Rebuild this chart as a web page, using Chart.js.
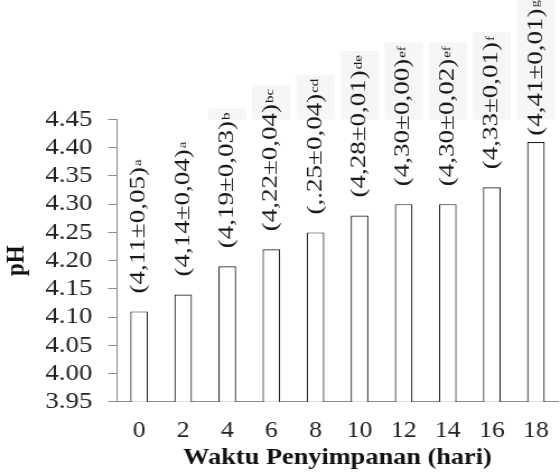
<!DOCTYPE html>
<html>
<head>
<meta charset="utf-8">
<script src="https://cdn.jsdelivr.net/npm/chart.js@4"></script>
<style>
  html, body { margin: 0; padding: 0; background: #fff; width: 560px; height: 475px; overflow: hidden; }
  #wrap { position: absolute; left: 0; top: 0; transform: scaleX(1.12); transform-origin: 0 0; }
</style>
</head>
<body>
<div id="wrap"><canvas id="c" width="505" height="475"></canvas></div>
<script>
// ---- data ----
const categories = ['0', '2', '4', '6', '8', '10', '12', '14', '16', '18'];
const phValues = [4.11, 4.14, 4.19, 4.22, 4.25, 4.28, 4.30, 4.30, 4.33, 4.41];
const labelMain = ['(4,11±0,05)', '(4,14±0,04)', '(4,19±0,03)', '(4,22±0,04)', '(,.25±0,04)',
                   '(4,28±0,01)', '(4,30±0,00)', '(4,30±0,02)', '(4,33±0,01)', '(4,41±0,01)'];
const labelLetters = ['a', 'a', 'b', 'bc', 'cd', 'de', 'ef', 'ef', 'f', 'g'];
const yTicks = [3.95, 4.00, 4.05, 4.10, 4.15, 4.20, 4.25, 4.30, 4.35, 4.40, 4.45];
const xTitle = 'Waktu Penyimpanan (hari)';
const yTitle = 'pH';

const SX = 1.12;
const SERIF = '"Liberation Serif", "Times New Roman", serif';
const AXIS_GRAY = '#8c8c8c';

const labelPlugin = {
  id: 'barLabels',
  afterDatasetsDraw(chart) {
    const ctx = chart.ctx;
    const meta = chart.getDatasetMeta(0);
    const areaTop = chart.chartArea.top;
    meta.data.forEach((el, i) => {
      ctx.save();
      ctx.font = '27px ' + SERIF;
      const w1 = ctx.measureText(labelMain[i]).width;
      ctx.font = '15px ' + SERIF;
      const w2 = ctx.measureText(labelLetters[i]).width;
      const len = w1 + 1 + w2;
      const start = Math.max(el.y - 18, len);
      const end = start - len;
      if (end - 4 < areaTop) {
        ctx.fillStyle = '#f6f6f6';
        ctx.fillRect(el.x - 17, Math.max(0, end - 4), 34, areaTop - Math.max(0, end - 4));
      }
      ctx.translate(el.x, start);
      ctx.scale(0.8 / SX, 1);
      ctx.rotate(-Math.PI / 2);
      ctx.fillStyle = '#1a1a1a';
      ctx.textAlign = 'left';
      ctx.textBaseline = 'middle';
      ctx.font = '27px ' + SERIF;
      ctx.fillText(labelMain[i], 0, 0);
      ctx.font = '15px ' + SERIF;
      ctx.fillText(labelLetters[i], w1 + 1, -1);
      ctx.restore();
    });
  }
};

new Chart(document.getElementById('c'), {
  type: 'bar',
  data: {
    labels: categories,
    datasets: [{
      data: phValues,
      backgroundColor: '#ffffff',
      borderColor: '#222222',
      borderWidth: 1.2,
      borderSkipped: false,
      barPercentage: 0.4,
      categoryPercentage: 1.0
    }]
  },
  options: {
    responsive: false,
    animation: false,
    layout: { padding: { top: 119.5, left: 0, right: 0, bottom: 0 } },
    plugins: { legend: { display: false }, tooltip: { enabled: false } },
    scales: {
      x: {
        grid: { display: false, drawTicks: false },
        border: { display: true, color: AXIS_GRAY, width: 1 },
        ticks: { color: '#222', padding: 15, autoSkip: false, maxRotation: 0,
                 font: { family: SERIF, size: 23 } },
        title: { display: true, text: xTitle, color: '#111', padding: { top: 0, bottom: 2.9 },
                 font: { family: SERIF, size: 23.5, weight: 'bold' } },
        afterFit(scale) { scale.height = 73.3; }
      },
      y: {
        min: 3.95,
        max: 4.45,
        afterBuildTicks(scale) { scale.ticks = yTicks.map(v => ({ value: v })); },
        grid: { drawOnChartArea: false, drawTicks: true, tickLength: 8, color: AXIS_GRAY },
        border: { display: true, color: AXIS_GRAY, width: 1 },
        ticks: { color: '#222', padding: 14, autoSkip: false, font: { family: SERIF, size: 24 },
                 callback: v => Number(v).toFixed(2) },
        title: { display: true, text: yTitle, color: '#111', padding: { top: 1, bottom: 0 },
                 font: { family: SERIF, size: 23, weight: 'bold' } },
        afterFit(scale) { scale.width = 104.5; }
      }
    }
  },
  plugins: [labelPlugin]
});
</script>
</body>
</html>
